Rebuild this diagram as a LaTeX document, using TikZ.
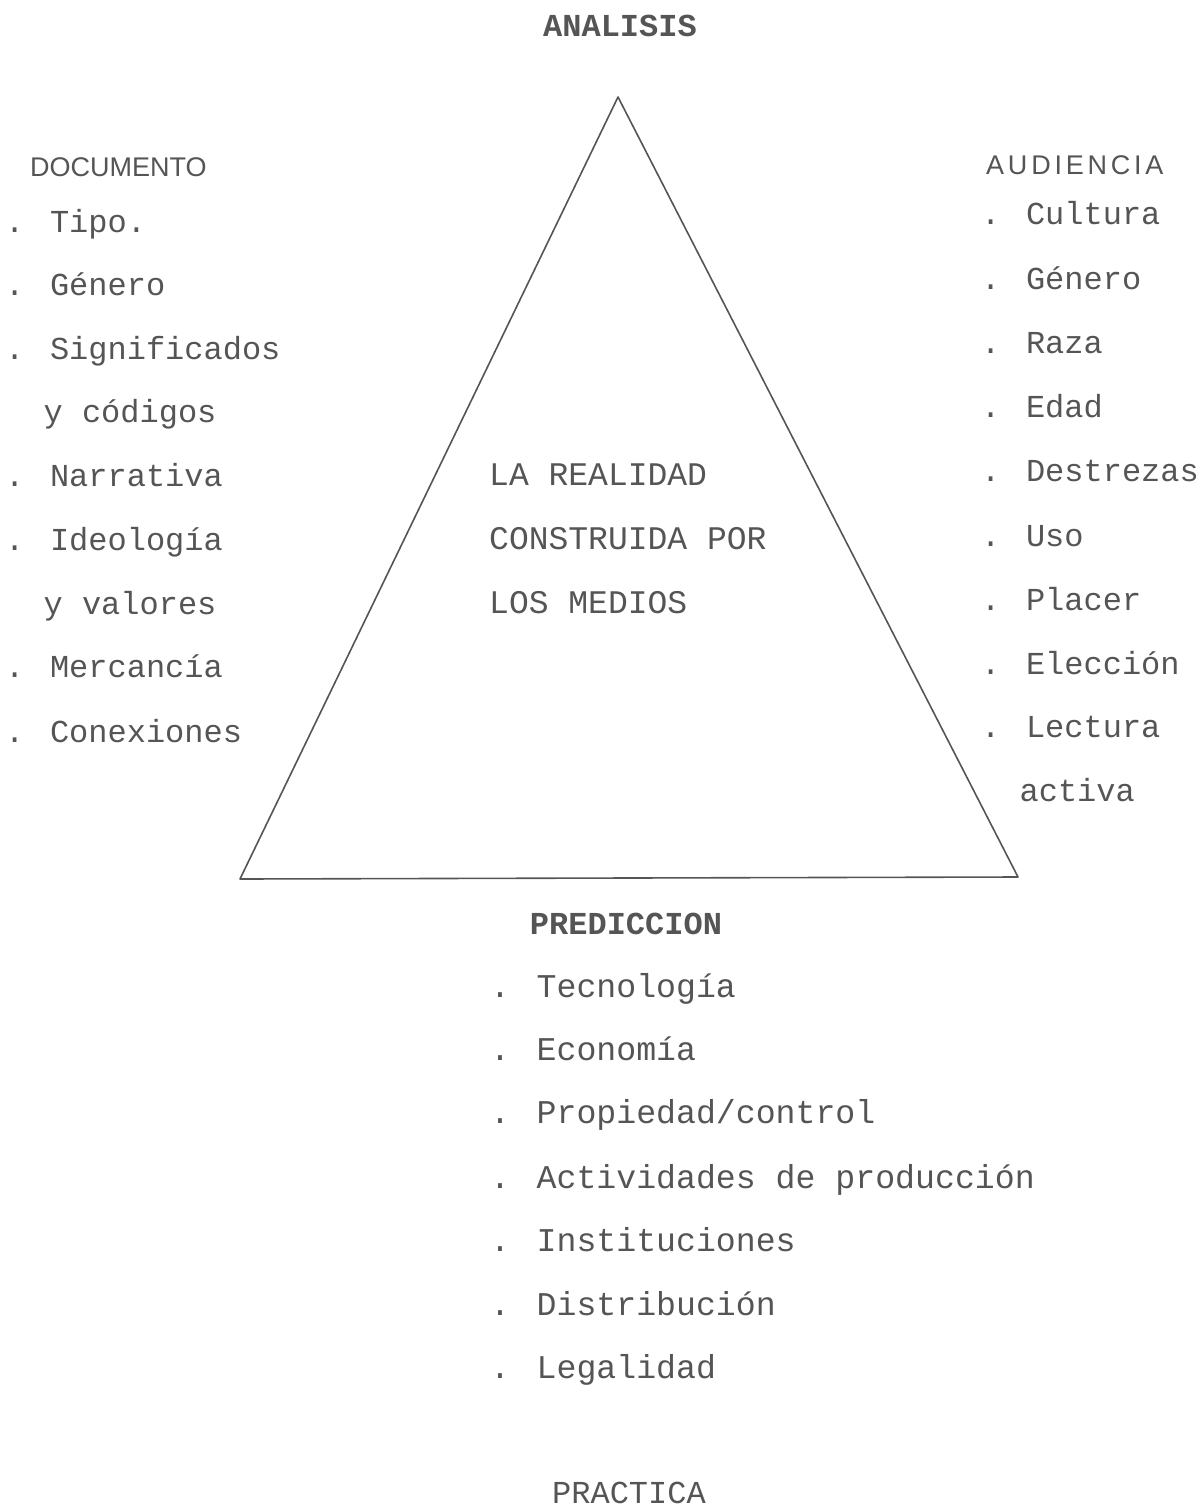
\documentclass[tikz,border=0pt]{standalone}
\usepackage{fontspec}
\newfontfamily\tw{Liberation Mono}
\newfontfamily\hwa{Liberation Sans}
\newfontfamily\hwb[LetterSpace=14]{Liberation Sans}
\definecolor{ink}{HTML}{555555}
\tikzset{
  txt/.style={inner sep=0pt, anchor=base west, text=ink, font=\tw\fontsize{32}{38}\selectfont},
  txtb/.style={txt, font=\tw\fontsize{33.2}{40}\selectfont},
  txtc/.style={txt, font=\tw\fontsize{33}{40}\selectfont},
  hd/.style={inner sep=0pt, anchor=base, text=ink, font=\tw\bfseries\fontsize{32}{38}\selectfont},
  hand/.style={inner sep=0pt, anchor=base west, text=ink, font=\hwa\fontsize{27}{32}\selectfont},
  edge/.style={draw=ink, line width=1.6pt, line join=round, line cap=round}
}
\begin{document}
\begin{tikzpicture}[x=1pt,y=-1pt]
\useasboundingbox (0,0) rectangle (1198,1509);
% triangle
\coordinate (A) at (618,97);
\coordinate (B) at (240,879);
\coordinate (C) at (1018,877);
\draw[edge] (A) -- (B) -- (C) -- cycle;
% headings
\node[hd] (analisis) at (620,37) {ANALISIS};
\node[hd] (prediccion) at (626,934) {PREDICCION};
\node[hd, font=\tw\fontsize{32}{38}\selectfont] (practica) at (629,1503) {PRACTICA};
\node[hand] (documento) at (30,176) {DOCUMENTO};
\node[hand, font=\hwb\fontsize{27}{32}\selectfont] (audiencia) at (986,174) {AUDIENCIA};
% left list
\node[txt] (l1) at (5,232) {. Tipo.};
\node[txt] (l2) at (5,295) {. Género};
\node[txt] (l3) at (5,359) {. Significados};
\node[txt] (l4) at (5,422) {\ \ y códigos};
\node[txt] (l5) at (5,486) {. Narrativa};
\node[txt] (l6) at (5,550) {. Ideología};
\node[txt] (l7) at (5,614) {\ \ y valores};
\node[txt] (l8) at (5,677) {. Mercancía};
\node[txt] (l9) at (5,742) {. Conexiones};
% right list
\node[txt] (r1) at (981,224) {. Cultura};
\node[txt] (r2) at (981,289) {. Género};
\node[txt] (r3) at (981,353) {. Raza};
\node[txt] (r4) at (981,417) {. Edad};
\node[txt] (r5) at (981,481) {. Destrezas};
\node[txt] (r6) at (981,546) {. Uso};
\node[txt] (r7) at (981,610) {. Placer};
\node[txt] (r8) at (981,674) {. Elección};
\node[txt] (r9) at (981,737) {. Lectura};
\node[txt] (r10) at (981,801) {\ \ activa};
% center
\node[txtc] (c1) at (489,485) {LA REALIDAD};
\node[txtc] (c2) at (489,549) {CONSTRUIDA POR};
\node[txtc] (c3) at (489,613) {LOS MEDIOS};
% bottom list
\node[txtb] (b1) at (490,997) {. Tecnología};
\node[txtb] (b2) at (490,1060) {. Economía};
\node[txtb] (b3) at (490,1123) {. Propiedad/control};
\node[txtb] (b4) at (490,1188) {. Actividades de producción};
\node[txtb] (b5) at (490,1251) {. Instituciones};
\node[txtb] (b6) at (490,1315) {. Distribución};
\node[txtb] (b7) at (490,1378) {. Legalidad};
\end{tikzpicture}
\end{document}
